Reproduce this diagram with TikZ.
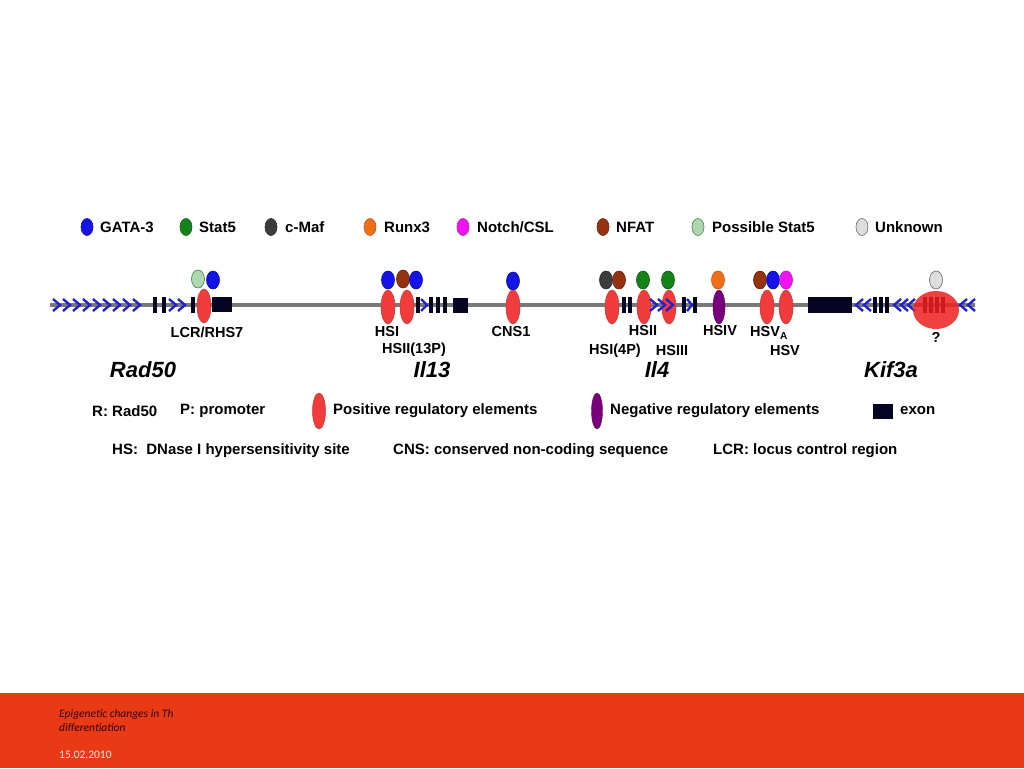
\documentclass[tikz,border=0pt]{standalone}
\usepackage{fontspec}
\setmainfont{Liberation Sans}
\newfontfamily\footfont{Carlito}
\usetikzlibrary{shapes.geometric}

\definecolor{gata}{RGB}{20,20,230}
\definecolor{stat}{RGB}{20,130,25}
\definecolor{cmaf}{RGB}{60,60,60}
\definecolor{runx}{RGB}{240,110,25}
\definecolor{notch}{RGB}{240,20,240}
\definecolor{nfat}{RGB}{150,50,15}
\definecolor{pstat}{RGB}{175,215,175}
\definecolor{unkn}{RGB}{222,222,222}
\definecolor{posred}{RGB}{240,60,60}
\definecolor{kifred}{RGB}{238,32,32}
\definecolor{negpurple}{RGB}{120,0,125}
\definecolor{exon}{RGB}{5,5,35}
\definecolor{chevblue}{RGB}{35,35,205}
\definecolor{footred}{RGB}{233,58,22}

\begin{document}
\begin{tikzpicture}[x=1pt, y=-1pt]
    % Define styles
    \tikzstyle{tf} = [ellipse, draw, line width=0.6pt, minimum width=13pt, minimum height=18pt, inner sep=0pt]
    \tikzstyle{posreg} = [ellipse, draw=posred!85!black, fill=posred, line width=0.5pt, minimum width=14pt, minimum height=34pt, inner sep=0pt]
    \tikzstyle{txt} = [font=\fontsize{15}{18}\selectfont\bfseries, inner sep=0pt, anchor=west]
    \tikzstyle{site} = [font=\fontsize{14.5}{17}\selectfont\bfseries, inner sep=0pt]
    \tikzstyle{gene} = [font=\fontsize{22}{26}\selectfont\bfseries\itshape, inner sep=0pt]
    \tikzstyle{chev} = [draw=chevblue, line width=2.4pt, line join=miter]
    \tikzstyle{exonbar} = [rectangle, fill=exon, minimum width=4pt, minimum height=16pt, inner sep=0pt]
    \tikzstyle{exonbox} = [rectangle, fill=exon, minimum height=15pt, inner sep=0pt]

    \useasboundingbox (0,0) rectangle (1024,768);
    \fill[white] (0,0) rectangle (1024,768);

    % Legend: transcription factors
    \node[tf, draw=gata!70!black, fill=gata, minimum width=12pt, minimum height=17pt] (lgata) at (87,227) {};
    \node[txt] (tgata) at (100,227) {GATA-3};
    \node[tf, draw=stat!70!black, fill=stat, minimum width=12pt, minimum height=17pt] (lstat) at (186,227) {};
    \node[txt] (tstat) at (199,227) {Stat5};
    \node[tf, draw=cmaf!70!black, fill=cmaf, minimum width=12pt, minimum height=17pt] (lcmaf) at (271,227) {};
    \node[txt] (tcmaf) at (285,227) {c-Maf};
    \node[tf, draw=runx!80!black, fill=runx, minimum width=12pt, minimum height=17pt] (lrunx) at (370,227) {};
    \node[txt] (trunx) at (384,227) {Runx3};
    \node[tf, draw=notch!80!black, fill=notch, minimum width=12pt, minimum height=17pt] (lnotch) at (463,227) {};
    \node[txt] (tnotch) at (477,227) {Notch/CSL};
    \node[tf, draw=nfat!70!black, fill=nfat, minimum width=12pt, minimum height=17pt] (lnfat) at (603,227) {};
    \node[txt] (tnfat) at (616,227) {NFAT};
    \node[tf, draw=stat!60!gray, fill=pstat, minimum width=12pt, minimum height=17pt] (lpstat) at (698,227) {};
    \node[txt] (tpstat) at (712,227) {Possible Stat5};
    \node[tf, draw=gray!80!black, fill=unkn, minimum width=12pt, minimum height=17pt] (lunkn) at (862,227) {};
    \node[txt] (tunkn) at (875,227) {Unknown};

    % Backbone
    \coordinate (bbL) at (50,305);
    \coordinate (bbR) at (975,305);
    \draw[line width=4pt, gray!95!black] (bbL) -- (bbR);

    % Rad50
    \foreach \x in {57,67,...,137}
        \draw[chev] (\x-4,299) -- (\x+3,305) -- (\x-4,311);
    \node[exonbar] (r1) at (155,305) {};
    \node[exonbar] (r2) at (164,305) {};
    \foreach \x in {173,182}
        \draw[chev] (\x-4,299) -- (\x+3,305) -- (\x-4,311);
    \node[exonbar] (r3) at (193,305) {};
    \node[exonbox, minimum width=20pt] (rex) at (222,304) {};
    \node[posreg] (lcr) at (204,306) {};
    \node[tf, draw=stat!60!gray, fill=pstat] (lcrA) at (198,279) {};
    \node[tf, draw=gata!70!black, fill=gata] (lcrB) at (213,280) {};
    \node[site] (llcr) at (207,332) {LCR/RHS7};

    % Il13
    \node[posreg] (hsi) at (388,307) {};
    \node[posreg] (hsii) at (407,307) {};
    \node[tf, draw=gata!70!black, fill=gata] (hsiA) at (388,280) {};
    \node[tf, draw=nfat!70!black, fill=nfat] (hsiB) at (403,279) {};
    \node[tf, draw=gata!70!black, fill=gata] (hsiC) at (416,280) {};
    \node[exonbar] (i1) at (418,305) {};
    \draw[chev] (421,299) -- (427,305) -- (421,311);
    \node[exonbar] (i2) at (431,305) {};
    \node[exonbar] (i3) at (438,305) {};
    \node[exonbar] (i4) at (445,305) {};
    \node[exonbox, minimum width=15pt] (iex) at (460,305) {};
    \node[posreg] (cns) at (513,307) {};
    \node[tf, draw=gata!70!black, fill=gata] (cnsA) at (513,281) {};
    \node[site] (lhsi) at (387,332) {HSI};
    \node[site] (lhsii) at (414,350) {HSII(13P)};
    \node[site] (lcns) at (511,332) {CNS1};

    % Il4
    \node[posreg] (hs4p) at (612,307) {};
    \node[tf, draw=cmaf!70!black, fill=cmaf] (hs4pA) at (606,280) {};
    \node[tf, draw=nfat!70!black, fill=nfat] (hs4pB) at (619,280) {};
    \node[exonbar] (f1) at (624,305) {};
    \node[exonbar] (f2) at (630,305) {};
    \node[posreg] (hs2) at (644,307) {};
    \node[tf, draw=stat!70!black, fill=stat] (hs2A) at (643,280) {};
    \node[posreg] (hs3) at (669,307) {};
    \node[tf, draw=stat!70!black, fill=stat] (hs3A) at (668,280) {};
    \foreach \x in {654,662,670}
        \draw[chev] (\x-4,299) -- (\x+3,305) -- (\x-4,311);
    \node[exonbar] (f3) at (684,305) {};
    \draw[chev] (687,299) -- (692,305) -- (687,311);
    \node[exonbar] (f4) at (695,305) {};
    \node[ellipse, draw=negpurple!80!black, fill=negpurple, line width=0.5pt, minimum width=12pt, minimum height=34pt, inner sep=0pt] (hs4) at (719,307) {};
    \node[tf, draw=runx!80!black, fill=runx] (hs4A) at (718,280) {};
    \node[posreg] (hsva) at (767,307) {};
    \node[posreg] (hsv) at (786,307) {};
    \node[tf, draw=nfat!70!black, fill=nfat] (hsvA) at (760,280) {};
    \node[tf, draw=gata!70!black, fill=gata] (hsvB) at (773,280) {};
    \node[tf, draw=notch!80!black, fill=notch] (hsvC) at (786,280) {};
    \node[site] (lhs2) at (643,331) {HSII};
    \node[site] (lhs4) at (720,331) {HSIV};
    \node[site, anchor=west] (lhsva) at (750,333) {HSV\textsubscript{A}};
    \node[site] (lhs4p) at (615,351) {HSI(4P)};
    \node[site] (lhs3) at (672,351) {HSIII};
    \node[site] (lhsv) at (785,351) {HSV};

    % Kif3a
    \node[exonbox, minimum width=44pt, minimum height=16pt] (kex) at (830,305) {};
    \foreach \x in {859,867,897,904,911,963,971}
        \draw[chev] (\x+4,299) -- (\x-3,305) -- (\x+4,311);
    \node[exonbar] (k1) at (875,305) {};
    \node[exonbar] (k2) at (881,305) {};
    \node[exonbar] (k3) at (887,305) {};
    \foreach \x in {925,931,937,943}
        \fill[exon] (\x-2,297) rectangle (\x+2,313);
    \node[ellipse, fill=kifred, fill opacity=0.85, minimum width=46pt, minimum height=38pt, inner sep=0pt] (kif) at (936,310) {};
    \node[tf, draw=gray!80!black, fill=unkn] (kifA) at (936,280) {};
    \node[site] (lkif) at (936,337) {?};

    % Gene names
    \node[gene] (grad) at (143,370) {Rad50};
    \node[gene] (gil13) at (432,370) {Il13};
    \node[gene] (gil4) at (657,370) {Il4};
    \node[gene] (gkif) at (891,370) {Kif3a};

    % Legend: elements
    \node[txt] (trad) at (92,411) {R: Rad50};
    \node[txt] (tprom) at (180,411) {P: promoter};
    \node[posreg, minimum width=13pt, minimum height=36pt] (lpos) at (319,411) {};
    \node[txt] (tpos) at (333,411) {Positive regulatory elements};
    \node[ellipse, draw=negpurple!80!black, fill=negpurple, minimum width=11pt, minimum height=36pt, inner sep=0pt] (lneg) at (597,411) {};
    \node[txt] (tneg) at (610,411) {Negative regulatory elements};
    \node[exonbox, minimum width=20pt, minimum height=15pt] (lexon) at (883,411) {};
    \node[txt] (texon) at (900,411) {exon};
    \node[txt] (ths) at (112,451) {HS:\ \ DNase I hypersensitivity site};
    \node[txt] (tcns) at (393,451) {CNS: conserved non-coding sequence};
    \node[txt] (tlcr) at (713,451) {LCR: locus control region};

    % Footer
    \fill[footred] (0,693) rectangle (1024,768);
    \node[anchor=west, inner sep=0pt, font=\footfont\fontsize{11.5}{13}\selectfont\itshape, text=black!80!red] (ftitle) at (59,714) {Epigenetic changes in Th};
    \node[anchor=west, inner sep=0pt, font=\footfont\fontsize{11.5}{13}\selectfont\itshape, text=black!80!red] (ftitle2) at (59,728) {differentiation};
    \node[anchor=west, inner sep=0pt, font=\footfont\fontsize{11.5}{13}\selectfont, text=white!92!red] (fdate) at (59,755) {15.02.2010};
\end{tikzpicture}
\end{document}
